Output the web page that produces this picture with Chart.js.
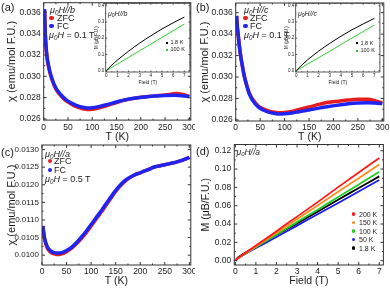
<!DOCTYPE html>
<html>
<head>
<meta charset="utf-8">
<script src="https://cdn.jsdelivr.net/npm/chart.js@4.4.1/dist/chart.umd.min.js"></script>
<style>
  html, body { margin: 0; padding: 0; background: #fff; }
  #fig { position: relative; width: 390px; height: 288px; overflow: hidden;
         font-family: "Liberation Sans", Arial, sans-serif; color: #1a1a1a; }
  #fig canvas { position: absolute; }
  .t { position: absolute; white-space: nowrap; line-height: 1; }
  .i { font-style: italic; }
  .d { position: absolute; border-radius: 50%; }
  .sq { position: absolute; }
  sub { font-size: 70%; vertical-align: -0.25em; line-height: 0; }
</style>
</head>
<body>
<div id="fig">
  <canvas id="chA"></canvas>
  <canvas id="chB"></canvas>
  <canvas id="chC"></canvas>
  <canvas id="chD"></canvas>
  <canvas id="inA"></canvas>
  <canvas id="inB"></canvas>

  <!-- (a) -->
  <div class="t" style="left:1px;top:2px;font-size:11px">(a)</div>
  <div class="t i" style="left:50px;top:6px;font-size:9px">μ<sub>0</sub>H//b</div>
  <div class="d" style="left:49px;top:15.7px;width:4.5px;height:4.5px;background:#e81c1c"></div>
  <div class="t" style="left:57px;top:13.6px;font-size:9px">ZFC</div>
  <div class="d" style="left:49px;top:23.7px;width:4.5px;height:4.5px;background:#1f24f0"></div>
  <div class="t" style="left:57px;top:21.6px;font-size:9px">FC</div>
  <div class="t" style="left:49px;top:30.5px;font-size:9px"><i>μ<sub>0</sub>H</i> = 0.1 T</div>
  <div class="t i" style="left:108px;top:9.5px;font-size:7px">μ<sub>0</sub>H//b</div>
  <div class="sq" style="left:165.7px;top:41.7px;width:2px;height:2px;background:#000"></div>
  <div class="t" style="left:170.5px;top:40px;font-size:5.5px">1.8 K</div>
  <div class="sq" style="left:165.7px;top:49px;width:2px;height:2px;background:#33cc33"></div>
  <div class="t" style="left:170.5px;top:47.3px;font-size:5.5px">100 K</div>

  <!-- (b) -->
  <div class="t" style="left:196px;top:2px;font-size:11px">(b)</div>
  <div class="t i" style="left:244px;top:6px;font-size:9px">μ<sub>0</sub>H//c</div>
  <div class="d" style="left:243px;top:15.7px;width:4.5px;height:4.5px;background:#e81c1c"></div>
  <div class="t" style="left:250px;top:13.6px;font-size:9px">ZFC</div>
  <div class="d" style="left:243px;top:23.7px;width:4.5px;height:4.5px;background:#1f24f0"></div>
  <div class="t" style="left:250px;top:21.6px;font-size:9px">FC</div>
  <div class="t" style="left:244px;top:31px;font-size:9px"><i>μ<sub>0</sub>H</i> = 0.1 T</div>
  <div class="t i" style="left:298px;top:9.5px;font-size:7px">μ<sub>0</sub>H//c</div>
  <div class="sq" style="left:355.7px;top:42.3px;width:2px;height:2px;background:#000"></div>
  <div class="t" style="left:360.5px;top:40.6px;font-size:5.5px">1.8 K</div>
  <div class="sq" style="left:355.7px;top:49.7px;width:2px;height:2px;background:#33cc33"></div>
  <div class="t" style="left:360.5px;top:48px;font-size:5.5px">100 K</div>

  <!-- (c) -->
  <div class="t" style="left:1px;top:147px;font-size:11px">(c)</div>
  <div class="t i" style="left:45px;top:149.5px;font-size:9px">μ<sub>0</sub>H//a</div>
  <div class="d" style="left:47.5px;top:158.7px;width:4.5px;height:4.5px;background:#e81c1c"></div>
  <div class="t" style="left:54px;top:156.6px;font-size:9px">ZFC</div>
  <div class="d" style="left:47.5px;top:167.7px;width:4.5px;height:4.5px;background:#1f24f0"></div>
  <div class="t" style="left:54px;top:165.6px;font-size:9px">FC</div>
  <div class="t" style="left:45px;top:175px;font-size:9px"><i>μ<sub>0</sub>H</i> = 0.5 T</div>

  <!-- (d) -->
  <div class="t" style="left:196px;top:146px;font-size:11px">(d)</div>
  <div class="t i" style="left:236.5px;top:147.5px;font-size:8.5px">μ<sub>0</sub>H//a</div>
  <div class="d" style="left:351.5px;top:212.3px;width:3.5px;height:3.5px;background:#ff1a1a"></div>
  <div class="t" style="left:359px;top:210.6px;font-size:7px">200 K</div>
  <div class="d" style="left:351.5px;top:220.8px;width:3.5px;height:3.5px;background:#ff8c1a"></div>
  <div class="t" style="left:359px;top:219.1px;font-size:7px">150 K</div>
  <div class="d" style="left:351.5px;top:229.3px;width:3.5px;height:3.5px;background:#22cc22"></div>
  <div class="t" style="left:359px;top:227.6px;font-size:7px">100 K</div>
  <div class="d" style="left:351.5px;top:237.8px;width:3.5px;height:3.5px;background:#1a1aff"></div>
  <div class="t" style="left:359px;top:236.1px;font-size:7px">50 K</div>
  <div class="d" style="left:351.5px;top:246.3px;width:3.5px;height:3.5px;background:#000"></div>
  <div class="t" style="left:359px;top:244.6px;font-size:7px">1.8 K</div>
</div>

<script>
const FONT = "'Liberation Sans', Arial, sans-serif";
const INK = "#1a1a1a";
const RED = "#e81c1c", BLUE = "#1f24f0";

// ---- (a) chi(T), H//b, 0.1 T ----
const tA_fc   = [1.8, 2.5, 3.5, 5, 7, 10, 13, 17, 22, 28, 35, 45, 55, 67, 80, 90, 100, 115, 130, 150, 170, 190, 210, 230, 250, 270, 285, 300];
const chiA_fc = [0.0363, 0.0350, 0.0338, 0.0327, 0.0318, 0.0310, 0.0304, 0.0298, 0.0292, 0.0287, 0.0283, 0.02785, 0.02755, 0.02728, 0.02710, 0.02703, 0.02705, 0.02718, 0.02735, 0.02760, 0.02782, 0.02797, 0.02807, 0.02815, 0.02820, 0.02822, 0.02818, 0.02810];
const tA_zfc   = [1.8, 2.5, 3.5, 5, 7, 10, 13, 17, 22, 28, 35, 45, 55, 67, 80, 90, 100, 115, 130, 150, 170, 190, 210, 230, 250, 265, 275, 285, 300];
const chiA_zfc = [0.0362, 0.0349, 0.0337, 0.0326, 0.0317, 0.0309, 0.0303, 0.0297, 0.0291, 0.0286, 0.0282, 0.02775, 0.02745, 0.02715, 0.02697, 0.02690, 0.02692, 0.02705, 0.02725, 0.02755, 0.02780, 0.02797, 0.02808, 0.02817, 0.02825, 0.02835, 0.02840, 0.02832, 0.02812];

// ---- (b) chi(T), H//c, 0.1 T ----
const tB_fc   = [1.8, 2.5, 3.5, 5, 7, 10, 13, 17, 22, 28, 35, 45, 55, 67, 80, 90, 100, 115, 130, 150, 170, 190, 210, 230, 250, 270, 285, 300];
const chiB_fc = [0.0357, 0.0352, 0.0346, 0.0340, 0.0331, 0.0320, 0.0312, 0.0302, 0.0293, 0.0284, 0.0278, 0.02725, 0.02695, 0.02673, 0.02660, 0.02655, 0.02657, 0.02665, 0.02677, 0.02693, 0.02710, 0.02725, 0.02738, 0.02750, 0.02758, 0.02760, 0.02757, 0.02752];
const tB_zfc   = [1.8, 2.5, 3.5, 5, 7, 10, 13, 17, 22, 28, 35, 45, 55, 67, 80, 90, 100, 115, 130, 150, 170, 190, 210, 230, 250, 270, 285, 300];
const chiB_zfc = [0.0357, 0.0352, 0.0346, 0.0340, 0.0331, 0.0320, 0.0312, 0.0302, 0.0293, 0.0285, 0.0279, 0.02735, 0.02705, 0.02685, 0.02672, 0.02667, 0.02670, 0.02680, 0.02698, 0.02720, 0.02745, 0.02765, 0.02775, 0.02785, 0.02792, 0.02793, 0.02780, 0.02757];

// ---- (c) chi(T), H//a, 0.5 T ----
const tC_fc   = [1.8, 3, 5, 8, 12, 17, 23, 30, 36, 42, 50, 60, 70, 80, 90, 100, 110, 120, 130, 140, 150, 160, 170, 180, 190, 200, 210, 220, 225, 230, 240, 250, 260, 270, 280, 290, 300];
const chiC_fc = [0.01083, 0.01068, 0.01050, 0.01034, 0.01021, 0.01013, 0.01008, 0.01006, 0.01006, 0.01008, 0.01013, 0.01022, 0.01035, 0.01051, 0.01068, 0.01087, 0.01106, 0.01125, 0.01145, 0.01165, 0.01184, 0.01200, 0.01213, 0.01222, 0.01229, 0.01234, 0.01240, 0.01245, 0.01249, 0.01251, 0.01254, 0.01257, 0.01260, 0.01263, 0.01267, 0.01272, 0.01278];
const tC_zfc   = [1.8, 5, 8, 12, 17, 23, 30, 36, 42, 50, 60, 70, 80, 90, 100, 110, 120, 130, 140, 150, 160, 170, 180, 190, 200, 210, 220, 230, 240, 250, 260, 270, 280, 290, 300];
const chiC_zfc = [0.01083, 0.01048, 0.01031, 0.01017, 0.01009, 0.01004, 0.01002, 0.01002, 0.01004, 0.01010, 0.01019, 0.01032, 0.01047, 0.01064, 0.01083, 0.01102, 0.01121, 0.01141, 0.01161, 0.01181, 0.01198, 0.01211, 0.01221, 0.01229, 0.01234, 0.01240, 0.01245, 0.01251, 0.01254, 0.01257, 0.01260, 0.01263, 0.01267, 0.01272, 0.01278];

// ---- (d) M(H), H//a ----
const fieldD = [0, 0.1, 0.25, 0.5, 1, 2, 3, 4, 5, 6, 7];
const mD_200K = [0, 0.0024, 0.0047, 0.0086, 0.0165, 0.0322, 0.0481, 0.0639, 0.0803, 0.0963, 0.1120];
const mD_150K = [0, 0.0023, 0.0045, 0.0082, 0.0156, 0.0303, 0.0452, 0.0602, 0.0753, 0.0901, 0.1050];
const mD_100K = [0, 0.0022, 0.0044, 0.0080, 0.0148, 0.0284, 0.0421, 0.0557, 0.0695, 0.0832, 0.0970];
const mD_50K  = [0, 0.0021, 0.0042, 0.0075, 0.0138, 0.0258, 0.0383, 0.0506, 0.0630, 0.0756, 0.0880];
const mD_1p8K = [0, 0.0029, 0.0053, 0.0088, 0.0153, 0.0283, 0.0407, 0.0535, 0.0666, 0.0793, 0.0920];

// ---- insets: M(H) ----
const fieldIn = [0, 0.5, 1, 2, 3, 4, 5, 6, 7];
const mInA_1p8K = [0, 0.035, 0.065, 0.120, 0.170, 0.215, 0.257, 0.295, 0.330];
const mInA_100K = [0, 0.0205, 0.041, 0.082, 0.123, 0.164, 0.205, 0.246, 0.287];
const mInB_1p8K = [0, 0.035, 0.066, 0.120, 0.168, 0.212, 0.252, 0.288, 0.322];
const mInB_100K = [0, 0.020, 0.040, 0.080, 0.120, 0.161, 0.201, 0.241, 0.281];

// ---- ticks ----
const tTicks = [0, 50, 100, 150, 200, 250, 300];
const chiTicksAB = [0.026, 0.028, 0.030, 0.032, 0.034, 0.036];
const chiTicksC = [0.0100, 0.0105, 0.0110, 0.0115, 0.0120, 0.0125, 0.0130];
const fieldTicks = [0, 1, 2, 3, 4, 5, 6, 7];
const mTicksD = [0, 0.02, 0.04, 0.06, 0.08, 0.10, 0.12];
const mTicksIn = [0, 0.1, 0.2, 0.3, 0.4];

function pts(xs, ys) { return xs.map((x, i) => ({ x, y: ys[i] })); }

function series(xs, ys, color, width, order) {
  return { data: pts(xs, ys), showLine: true, borderColor: color, backgroundColor: color,
           borderWidth: width, pointRadius: 0, cubicInterpolationMode: "monotone", order };
}

// box with inward ticks on all four sides (major + minor)
const framePlugin = {
  id: "frame",
  beforeDraw(chart, args, opts) {
    if (!opts.fill) return;
    const a = chart.chartArea, ctx = chart.ctx;
    ctx.save();
    ctx.fillStyle = "#fff";
    ctx.fillRect(a.left, a.top, a.right - a.left, a.bottom - a.top);
    ctx.restore();
  },
  afterDatasetsDraw(chart, args, opts) {
    const { ctx, chartArea: a, scales } = chart;
    const big = opts.tick || 3, small = big / 2;
    ctx.save();
    ctx.strokeStyle = "#333";
    ctx.lineWidth = opts.lw || 1;
    ctx.strokeRect(a.left, a.top, a.right - a.left, a.bottom - a.top);
    ctx.beginPath();
    const marks = (scale, horiz) => {
      const vals = scale.ticks.map(t => t.value);
      const list = [];
      vals.forEach((v, i) => {
        list.push([v, big]);
        if (i < vals.length - 1) list.push([(v + vals[i + 1]) / 2, small]);
      });
      list.forEach(([v, len]) => {
        const p = scale.getPixelForValue(v);
        if (horiz) {
          ctx.moveTo(p, a.bottom); ctx.lineTo(p, a.bottom - len);
          ctx.moveTo(p, a.top); ctx.lineTo(p, a.top + len);
        } else {
          ctx.moveTo(a.left, p); ctx.lineTo(a.left + len, p);
          ctx.moveTo(a.right, p); ctx.lineTo(a.right - len, p);
        }
      });
    };
    marks(scales.x, true);
    marks(scales.y, false);
    ctx.stroke();
    ctx.restore();
  }
};

function axis(a, fit) {
  return {
    type: "linear", min: a.min, max: a.max,
    afterBuildTicks: s => { s.ticks = a.ticks.map(v => ({ value: v })); },
    afterFit: s => { fit(s); s.paddingLeft = s.paddingRight = s.paddingTop = s.paddingBottom = 0; },
    grid: { display: false, drawTicks: false },
    border: { display: false },
    ticks: { color: INK, font: { size: a.fs, family: FONT }, padding: a.pad,
             autoSkip: false, maxRotation: 0, callback: v => a.fmt(v) },
    title: { display: true, text: a.title, color: INK, font: { size: a.ts, family: FONT }, padding: a.tpad }
  };
}

// box = canvas rect on the page, area = wanted plot rect on the page
function plot(id, box, area, o) {
  const cv = document.getElementById(id);
  cv.width = box.w; cv.height = box.h;
  cv.style.left = box.x + "px"; cv.style.top = box.y + "px";
  const xH = box.y + box.h - area.b;
  const yW = area.l - box.x;
  return new Chart(cv, {
    type: "scatter",
    data: { datasets: o.datasets },
    options: {
      responsive: false, animation: false, events: [],
      layout: { padding: { left: 0, bottom: 0, top: area.t - box.y, right: box.x + box.w - area.r } },
      plugins: { legend: { display: false }, tooltip: { enabled: false },
                 frame: { tick: o.tick, fill: o.fill, lw: o.lw } },
      scales: {
        x: axis(o.x, s => { s.height = xH; }),
        y: axis(o.y, s => { s.width = yW; })
      }
    },
    plugins: [framePlugin]
  });
}

const chiTitle = "χ (emu/mol F.U.)";
const f0 = v => v.toFixed(0);
const xTitlePad = { top: 0, bottom: 0.3 };

plot("chA", { x: 0, y: 0, w: 195, h: 144 }, { l: 43.7, t: 2.7, r: 190.8, b: 120.1 }, {
  tick: 3,
  datasets: [series(tA_fc, chiA_fc, BLUE, 3.5, 0), series(tA_zfc, chiA_zfc, RED, 3.5, 1)],
  x: { min: 0, max: 303, ticks: tTicks, fmt: f0, fs: 8.5, pad: 2, title: "T (K)", ts: 10.5, tpad: xTitlePad },
  y: { min: 0.0259, max: 0.0369, ticks: chiTicksAB, fmt: v => v.toFixed(3), fs: 8.5, pad: 3, title: chiTitle, ts: 11, tpad: { top: 5.4, bottom: 0 } }
});

plot("chB", { x: 195, y: 0, w: 195, h: 144 }, { l: 235.7, t: 3, r: 383.8, b: 121 }, {
  tick: 3,
  datasets: [series(tB_fc, chiB_fc, BLUE, 3.5, 0), series(tB_zfc, chiB_zfc, RED, 3.5, 1)],
  x: { min: 0, max: 303, ticks: tTicks, fmt: f0, fs: 8.5, pad: 2, title: "T (K)", ts: 10.5, tpad: xTitlePad },
  y: { min: 0.0259, max: 0.0369, ticks: chiTicksAB, fmt: v => v.toFixed(3), fs: 8.5, pad: 3, title: chiTitle, ts: 11, tpad: { top: 3, bottom: 0 } }
});

plot("chC", { x: 0, y: 144, w: 195, h: 144 }, { l: 42, t: 145, r: 190.8, b: 265 }, {
  tick: 3,
  datasets: [series(tC_fc, chiC_fc, BLUE, 3.5, 0), series(tC_zfc, chiC_zfc, RED, 3.5, 1)],
  x: { min: 0, max: 303, ticks: tTicks, fmt: f0, fs: 8.5, pad: 2, title: "T (K)", ts: 10.5, tpad: xTitlePad },
  y: { min: 0.00972, max: 0.01313, ticks: chiTicksC, fmt: v => v.toFixed(4), fs: 8, pad: 3, title: chiTitle, ts: 11, tpad: { top: 5, bottom: 0 } }
});

plot("chD", { x: 195, y: 144, w: 195, h: 144 }, { l: 234.3, t: 144.5, r: 383.4, b: 265 }, {
  tick: 3,
  datasets: [
    series(fieldD, mD_200K, "#ff1a1a", 1.8, 0),
    series(fieldD, mD_150K, "#ff8c1a", 1.8, 0),
    series(fieldD, mD_100K, "#22cc22", 1.8, 0),
    series(fieldD, mD_1p8K, "#000000", 1.8, 0),
    series(fieldD, mD_50K, "#1a1aff", 1.8, 0)
  ],
  x: { min: -0.05, max: 7.2, ticks: fieldTicks, fmt: f0, fs: 8.5, pad: 2, title: "Field (T)", ts: 10.5, tpad: xTitlePad },
  y: { min: -0.0047, max: 0.1268, ticks: mTicksD, fmt: v => v.toFixed(2), fs: 8.5, pad: 3, title: "M (μB/F.U.)", ts: 10.5, tpad: { top: 5, bottom: 0 } }
});

// insets (transparent canvas, white plot area)
plot("inA", { x: 93, y: 0, w: 100, h: 88 }, { l: 105.7, t: 3.3, r: 189.9, b: 72 }, {
  tick: 1.5, fill: true, lw: 0.8,
  datasets: [series(fieldIn, mInA_1p8K, "#000000", 1, 0), series(fieldIn, mInA_100K, "#33cc33", 1, 1)],
  x: { min: -0.05, max: 7.5, ticks: fieldTicks, fmt: f0, fs: 4.5, pad: 1.5, title: "Field (T)", ts: 5, tpad: { top: 0, bottom: 2.5 } },
  y: { min: -0.008, max: 0.415, ticks: mTicksIn, fmt: v => v.toFixed(1), fs: 4.5, pad: 1.5, title: "M (μB/F.U.)", ts: 4.5, tpad: { top: 1.5, bottom: 0 } }
});

plot("inB", { x: 283, y: 0, w: 100, h: 88 }, { l: 295.7, t: 3.3, r: 379.9, b: 72 }, {
  tick: 1.5, fill: true, lw: 0.8,
  datasets: [series(fieldIn, mInB_1p8K, "#000000", 1, 0), series(fieldIn, mInB_100K, "#33cc33", 1, 1)],
  x: { min: -0.05, max: 7.5, ticks: fieldTicks, fmt: f0, fs: 4.5, pad: 1.5, title: "Field (T)", ts: 5, tpad: { top: 0, bottom: 2.5 } },
  y: { min: -0.008, max: 0.415, ticks: mTicksIn, fmt: v => v.toFixed(1), fs: 4.5, pad: 1.5, title: "M (μB/F.U.)", ts: 4.5, tpad: { top: 1.5, bottom: 0 } }
});
</script>
</body>
</html>
